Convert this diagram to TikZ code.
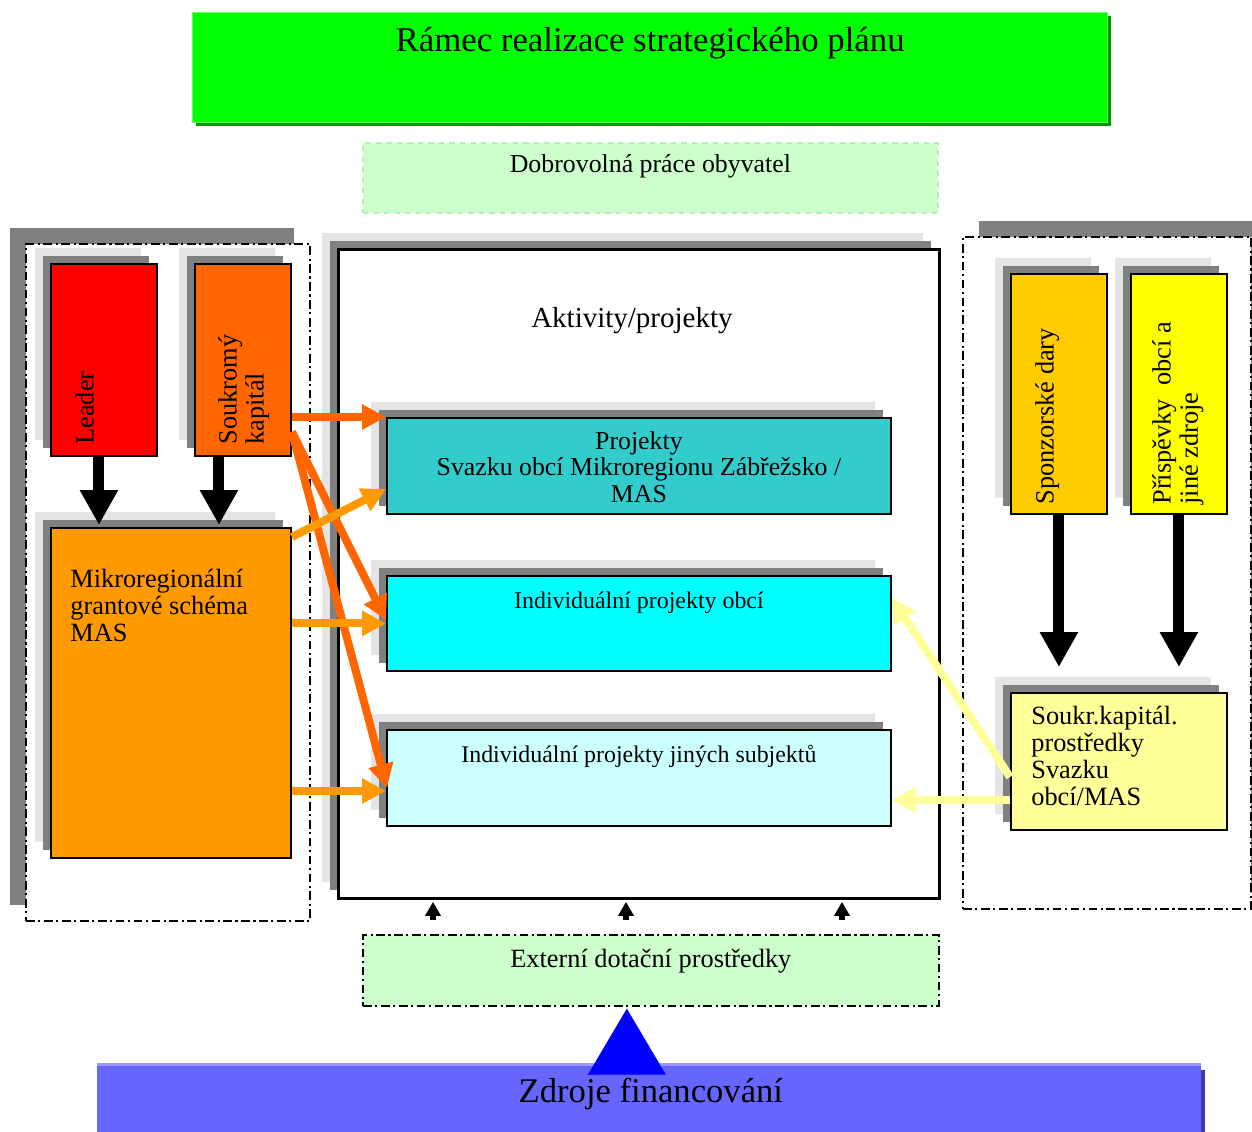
\documentclass[tikz,border=0pt]{standalone}
\usepackage{fontspec}
\setmainfont{Liberation Serif}
\usepackage{xcolor}
\usetikzlibrary{arrows.meta, calc, shadows}

\definecolor{framegreen}{HTML}{00FF00}
\definecolor{frameedge}{HTML}{66FF66}
\definecolor{frameshade}{HTML}{009900}
\definecolor{palegreen}{HTML}{CCFFCC}
\definecolor{paleline}{HTML}{B3F0B3}
\definecolor{leaderred}{HTML}{FF0000}
\definecolor{privorange}{HTML}{FF6600}
\definecolor{grantorange}{HTML}{FF9900}
\definecolor{projteal}{HTML}{33CCCC}
\definecolor{projcyan}{HTML}{00FFFF}
\definecolor{projpale}{HTML}{CCFFFF}
\definecolor{sponsorgold}{HTML}{FFCC00}
\definecolor{contribyellow}{HTML}{FFFF00}
\definecolor{capitalyellow}{HTML}{FFFF99}
\definecolor{srcblue}{HTML}{6666FF}
\definecolor{srcedge}{HTML}{9999FF}
\definecolor{srcshade}{HTML}{3D3DA8}
\definecolor{arrowblue}{HTML}{0000FF}
\definecolor{shadedark}{HTML}{808080}
\definecolor{shadelight}{HTML}{E4E4E4}

\begin{document}
\begin{tikzpicture}[
    x=0.02cm, y=-0.02cm,
    box/.style={rectangle, draw, line width=1.1pt, anchor=north west, inner sep=0pt},
    twoshadow/.style={general shadow={fill=shadelight, shadow xshift=-0.32cm, shadow yshift=0.32cm},
                      general shadow={fill=shadedark, shadow xshift=-0.16cm, shadow yshift=0.16cm}},
    dashdot/.style={dash pattern=on 5pt off 2pt on 1.2pt off 2pt},
    groupbox/.style={rectangle, draw, fill=white, line width=1.2pt, anchor=north west, dashdot},
    txt/.style={inner sep=0pt, font=\fontsize{15}{15.4}\selectfont},
    vtxt/.style={txt, rotate=90, anchor=north west, align=left},
    flowarrow/.style={-{Triangle[width=0.48cm,length=0.48cm]}, line width=0.16cm},
    bigarrow/.style={-{Triangle[width=0.72cm,length=0.7cm]}, line width=0.22cm},
    tinyarrow/.style={-{Triangle[width=0.3cm,length=0.28cm]}, line width=0.12cm},
    srcarrow/.style={-{Triangle[width=1.56cm,length=1.32cm]}, line width=0.1pt, arrowblue}
]
\useasboundingbox (0,0) rectangle (1252,1132);

% Groups
\node[groupbox, general shadow={fill=shadedark, shadow xshift=-0.32cm, shadow yshift=0.32cm},
      minimum width=5.68cm, minimum height=13.54cm] (leftgroup) at (25,243) {};
\node[groupbox, general shadow={fill=shadedark, shadow xshift=0.32cm, shadow yshift=0.32cm},
      minimum width=5.76cm, minimum height=13.44cm] (rightgroup) at (962,236) {};

% Header
\node[box, draw=frameedge, line width=0.8pt, fill=framegreen,
      general shadow={fill=frameshade, shadow xshift=0.06cm, shadow yshift=-0.06cm},
      minimum width=18.3cm, minimum height=2.2cm] (frame) at (192,12) {};
\node[box, draw=paleline, dashed, fill=palegreen, minimum width=11.5cm, minimum height=1.4cm] (volunteer) at (362,142) {};

% Central box
\node[box, twoshadow, fill=white, line width=1.7pt, minimum width=12.02cm, minimum height=12.98cm] (activities) at (337,248) {};
\node[box, twoshadow, fill=projteal, minimum width=10.08cm, minimum height=1.92cm] (projmas) at (386,417) {};
\node[box, twoshadow, fill=projcyan, minimum width=10.08cm, minimum height=1.9cm] (projobce) at (386,575) {};
\node[box, twoshadow, fill=projpale, minimum width=10.08cm, minimum height=1.92cm] (projother) at (386,729) {};

% Left side
\node[box, twoshadow, fill=leaderred, minimum width=2.12cm, minimum height=3.84cm] (leader) at (50,263) {};
\node[box, twoshadow, fill=privorange, minimum width=1.92cm, minimum height=3.84cm] (private) at (194,263) {};
\node[box, twoshadow, fill=grantorange, minimum width=4.8cm, minimum height=6.6cm] (grant) at (50,527) {};

% Right side
\node[box, twoshadow, fill=sponsorgold, minimum width=1.92cm, minimum height=4.8cm] (sponsor) at (1010,273) {};
\node[box, twoshadow, fill=contribyellow, minimum width=1.92cm, minimum height=4.8cm] (contrib) at (1130,273) {};
\node[box, twoshadow, fill=capitalyellow, minimum width=4.32cm, minimum height=2.74cm] (capital) at (1010,692) {};

% Bottom
\node[box, fill=palegreen, line width=1pt, dashdot,
      minimum width=11.52cm, minimum height=1.42cm] (external) at (362,934) {};
\node[box, draw=none, fill=srcblue,
      general shadow={fill=srcshade, shadow xshift=0.08cm, shadow yshift=-0.08cm},
      general shadow={fill=srcedge, shadow yshift=0.06cm},
      minimum width=22.08cm, minimum height=1.6cm] (sources) at (96,1065) {};

% Texts
\node[txt, anchor=base, font=\fontsize{19.8}{22}\selectfont] (frametxt) at ($(frame.north)+(0,40)$) {Rámec realizace strategického plánu};
\node[txt, anchor=base, font=\fontsize{14.7}{15}\selectfont] (volunteertxt) at ($(volunteer.north)+(0,31)$) {Dobrovolná práce obyvatel};
\node[txt, anchor=base, font=\fontsize{16.5}{18}\selectfont] (activitiestxt) at ($(activities.north)+(-7,79)$) {Aktivity/projekty};
\node[txt, anchor=north, align=center, font=\fontsize{14.7}{15.1}\selectfont] (projmastxt) at ($(projmas.north)+(0,14)$) {Projekty\\Svazku obcí Mikroregionu Zábřežsko /\\MAS};
\node[txt, anchor=base, font=\fontsize{13.6}{15}\selectfont] (projobcetxt) at ($(projobce.north)+(0,33)$) {Individuální projekty obcí};
\node[txt, anchor=base, font=\fontsize{13.6}{15}\selectfont] (projothertxt) at ($(projother.north)+(0,33)$) {Individuální projekty jiných subjektů};
\node[txt, anchor=north west, align=left] (granttxt) at ($(grant.north west)+(20,42)$) {Mikroregionální\\grantové schéma\\MAS};
\node[txt, anchor=north west, align=left] (capitaltxt) at ($(capital.north west)+(21,14)$) {Soukr.kapitál.\\prostředky\\Svazku\\obcí/MAS};
\node[txt, anchor=base] (externaltxt) at ($(external.north)+(0,33)$) {Externí dotační prostředky};
\node[txt, anchor=base, font=\fontsize{19.7}{22}\selectfont] (sourcestxt) at ($(sources.north)+(2,37)$) {Zdroje financování};
\node[vtxt] (leadertxt) at ($(leader.south west)+(25,-12)$) {Leader};
\node[vtxt] (privatetxt) at ($(private.south west)+(24,-12)$) {Soukromý\\kapitál};
\node[vtxt] (sponsortxt) at ($(sponsor.south west)+(25,-10)$) {Sponzorské dary};
\node[vtxt] (contribtxt) at ($(contrib.south west)+(22,-10)$) {Příspěvky \ obcí a\\jiné zdroje};

% Arrows
\draw[bigarrow] ($(leader.south)+(-5,0)$) -- ($(leader.south |- grant.north)+(-5,-2)$);
\draw[bigarrow] ($(private.south)+(-24,0)$) -- ($(private.south |- grant.north)+(-24,-2)$);
\draw[bigarrow] (sponsor.south) -- ($(sponsor.south |- capital.north)+(0,-25)$);
\draw[bigarrow] (contrib.south) -- ($(contrib.south |- capital.north)+(0,-25)$);

\draw[flowarrow, privorange] (private.east |- projmas.north west) -- (projmas.north west);
\draw[flowarrow, privorange] ($(private.south east)+(0,-25)$) -- ($(projobce.north west)+(0,45)$);
\draw[flowarrow, privorange] ($(private.south east)+(0,-25)$) -- ($(projother.north west)+(1,59)$);
\draw[flowarrow, grantorange] ($(grant.north east)+(0,10)$) -- ($(projmas.north west)+(0,72)$);
\draw[flowarrow, grantorange] (grant.east |- projobce.west) -- (projobce.west);
\draw[flowarrow, grantorange] ($(grant.north east)+(0,264)$) -- ($(projother.north west)+(0,62)$);

\draw[flowarrow, capitalyellow] ($(capital.north west)+(0,85)$) -- ($(projobce.north east)+(0,23)$);
\draw[flowarrow, capitalyellow] ($(capital.north west)+(0,108)$) -- ($(projother.north east)+(0,71)$);

\foreach \dx in {71,264,480} {
  \coordinate (foot) at ($(external.north west)+(\dx,-14)$);
  \draw[tinyarrow] (foot) -- ($(foot |- activities.south)+(0,2)$);
}

\draw[srcarrow] ($(sources.north)+(-22,8)$) -- ($(external.south)+(-24,2)$);

\end{tikzpicture}
\end{document}
